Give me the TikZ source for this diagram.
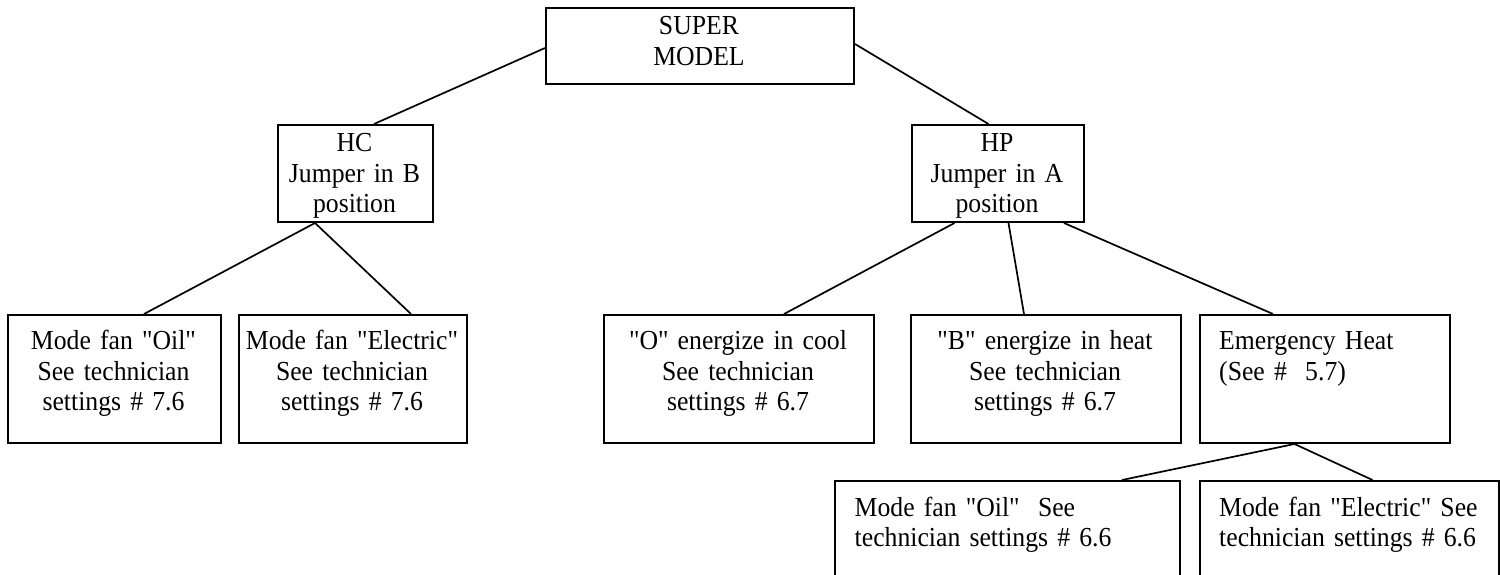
\documentclass[tikz,border=0pt]{standalone}
\usepackage{fontspec}
\setmainfont{Liberation Serif}[Ligatures=TeXOff, FakeStretch=0.935]
\begin{document}
\begin{tikzpicture}[x=1pt,y=-1pt,
  box/.style={draw, line width=2pt, inner sep=0pt, anchor=north west},
  txt/.style={inner sep=0pt, font=\fontsize{27.5}{30.5}\selectfont},
  ctext/.style={txt, align=center, anchor=base},
  ltext/.style={txt, align=left, anchor=base west},
  link/.style={line width=1.7pt}]
\useasboundingbox (0,0) rectangle (1500,575);
\clip (0,0) rectangle (1500,575);

% boxes
\node[box, minimum width=308pt, minimum height=76pt] (super) at (545,7) {};
\node[box, minimum width=155pt, minimum height=97pt] (hc) at (277,124) {};
\node[box, minimum width=172pt, minimum height=97pt] (hp) at (911,124) {};
\node[box, minimum width=213pt, minimum height=128pt] (oil) at (7,314) {};
\node[box, minimum width=228pt, minimum height=128pt] (elec) at (238,314) {};
\node[box, minimum width=270pt, minimum height=128pt] (ocool) at (603,314) {};
\node[box, minimum width=270pt, minimum height=128pt] (bheat) at (910,314) {};
\node[box, minimum width=250pt, minimum height=128pt] (emerg) at (1199,314) {};
\node[box, minimum width=345pt, minimum height=140pt] (eoil) at (834,480) {};
\node[box, minimum width=299pt, minimum height=140pt] (eelec) at (1199,480) {};

% texts
\node[ctext, text width=300pt] (supert) at (699,35) {SUPER\\MODEL};
\node[ctext, text width=200pt] (hct) at (354.5,152) {HC\\Jumper in B\\position};
\node[ctext, text width=200pt] (hpt) at (997,152) {HP\\Jumper in A\\position};
\node[ctext, text width=260pt] (oilt) at (113.5,349.5) {Mode fan "Oil"\\See technician\\settings \# 7.6};
\node[ctext, text width=260pt] (elect) at (352,349.5) {Mode fan "Electric"\\See technician\\settings \# 7.6};
\node[ctext, text width=270pt] (ocoolt) at (738,349.5) {"O" energize in cool\\See technician\\settings \# 6.7};
\node[ctext, text width=270pt] (bheatt) at (1045,349.5) {"B" energize in heat\\See technician\\settings \# 6.7};
\node[ltext, text width=225pt] (emergt) at (1219,349.5) {Emergency Heat\\(See \#\ \ 5.7)};
\node[ltext, text width=310pt] (eoilt) at (854.5,516) {Mode fan "Oil"\ \ See\\technician settings \# 6.6};
\node[ltext, text width=275pt] (eelect) at (1219,516) {Mode fan "Electric" See\\technician settings \# 6.6};

% connectors
\draw[link] ([yshift=-2pt]super.west) -- ([xshift=18.5pt]hc.north);
\draw[link] ([yshift=2pt]super.east) -- ([xshift=-9.5pt]hp.north);
\draw[link] ([xshift=-40.5pt]hc.south) -- ([xshift=29.5pt]oil.north);
\draw[link] ([xshift=-40.5pt]hc.south) -- ([xshift=58pt]elec.north);
\draw[link] ([xshift=-43.5pt]hp.south) -- ([xshift=45pt]ocool.north);
\draw[link] ([xshift=10.5pt]hp.south) -- ([xshift=-22pt]bheat.north);
\draw[link] ([xshift=66pt]hp.south) -- ([xshift=-52pt]emerg.north);
\draw[link] ([xshift=-30.5pt]emerg.south) -- ([xshift=114.5pt]eoil.north);
\draw[link] ([xshift=-30.5pt]emerg.south) -- ([xshift=23pt]eelec.north);
\end{tikzpicture}
\end{document}
